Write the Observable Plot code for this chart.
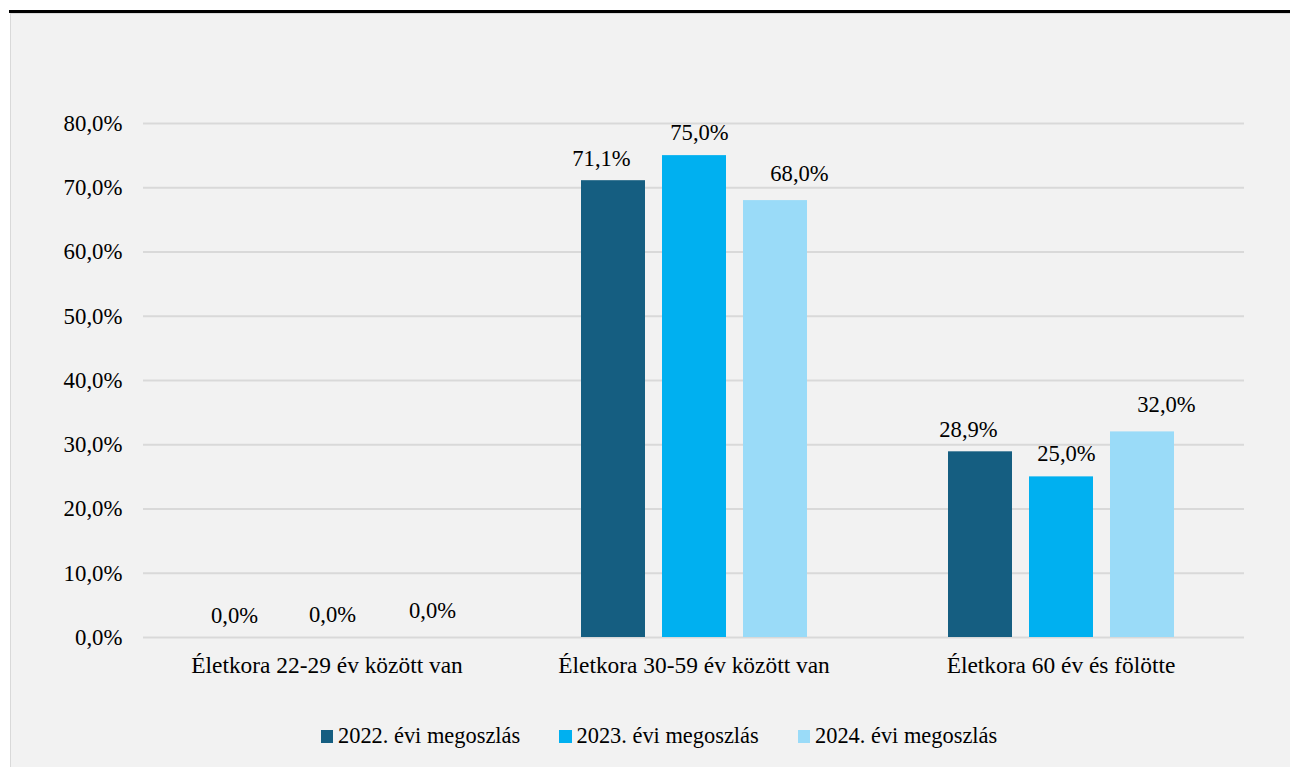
<!DOCTYPE html>
<html>
<head>
<meta charset="utf-8">
<script src="https://cdn.jsdelivr.net/npm/d3@7"></script>
<script src="https://cdn.jsdelivr.net/npm/@observablehq/plot@0.6"></script>
<style>
  html, body { margin: 0; padding: 0; background: #fff; width: 1290px; height: 767px; overflow: hidden; }
  #topline { position: absolute; left: 9px; top: 10px; width: 1281px; height: 2.5px; background: #000; }
  #panel { position: absolute; left: 10px; top: 13px; width: 1280px; height: 754px; background: #f2f2f2;
           border-left: 1px solid #d9d9d9; border-top: 1px solid #d9d9d9; box-sizing: border-box; }
  #chart { position: absolute; left: 10px; top: 13px; }
  #legend { position: absolute; left: 0; top: 722px; width: 1290px; height: 28px;
            font-family: "Liberation Serif", "Times New Roman", Times, "DejaVu Serif", serif; font-size: 22.4px; color: #000; }
  .item { position: absolute; top: 0; height: 28px; display: flex; align-items: center; white-space: nowrap; }
  .sw { width: 12.5px; height: 13px; margin-right: 5px; }
</style>
</head>
<body>
<div id="topline"></div>
<div id="panel"></div>
<div id="chart"></div>
<div id="legend"></div>
<script>
const categories = ["Életkora 22-29 év között van", "Életkora 30-59 év között van", "Életkora 60 év és fölötte"];
const series = ["2022. évi megoszlás", "2023. évi megoszlás", "2024. évi megoszlás"];
const v2022 = [0.0, 71.1, 28.9];
const v2023 = [0.0, 75.0, 25.0];
const v2024 = [0.0, 68.0, 32.0];
const yTicks = [0, 10, 20, 30, 40, 50, 60, 70, 80];
const colors = ["#155E81", "#00B0F0", "#9ADBF8"];

const valuesBySeries = [v2022, v2023, v2024];
const data = [];
categories.forEach((c, i) => {
  series.forEach((s, j) => {
    data.push({category: c, series: s, value: valuesBySeries[j][i]});
  });
});

const fmt = d => d.toFixed(1).replace(".", ",") + "%";
const labelOffsets = [{dx: -12, dy: -22}, {dx: 5, dy: -23}, {dx: 24, dy: -27}];
const FONT = "'Liberation Serif', 'Times New Roman', Times, 'DejaVu Serif', serif";

const chart = Plot.plot({
  width: 1280,
  height: 680,
  marginLeft: 132,
  marginRight: 45,
  marginTop: 110,
  marginBottom: 56,
  style: {background: "transparent", fontFamily: FONT, fontSize: "22.8px", color: "#000", overflow: "visible"},
  fx: {domain: categories, padding: 0, label: null, axis: null},
  x: {domain: series, paddingInner: 0.215, paddingOuter: 0.863, axis: null},
  y: {domain: [0, 80], ticks: yTicks, tickFormat: fmt, tickSize: 0, tickPadding: 21, label: null},
  color: {domain: series, range: colors},
  marks: [
    Plot.ruleY(yTicks, {stroke: "#d9d9d9", strokeWidth: 2}),
    Plot.axisFx({anchor: "bottom", tickSize: 0, tickPadding: 19, label: null, fontSize: 23.4}),
    Plot.barY(data, {fx: "category", x: "series", y: "value", fill: "series"}),
    ...series.map((s, j) => Plot.text(data.filter(d => d.series === s), {
      fx: "category", x: "series", y: "value", text: d => fmt(d.value),
      dx: labelOffsets[j].dx, dy: labelOffsets[j].dy, fill: "#000", fontSize: 22.6, fontFamily: FONT
    }))
  ]
});
document.getElementById("chart").appendChild(chart);

const legend = document.getElementById("legend");
series.forEach((s, j) => {
  const item = document.createElement("div");
  item.className = "item";
  item.style.left = (320.5 + j * 238.5) + "px";
  const sw = document.createElement("div");
  sw.className = "sw";
  sw.style.background = colors[j];
  const t = document.createElement("span");
  t.textContent = s;
  item.appendChild(sw);
  item.appendChild(t);
  legend.appendChild(item);
});
</script>
</body>
</html>
